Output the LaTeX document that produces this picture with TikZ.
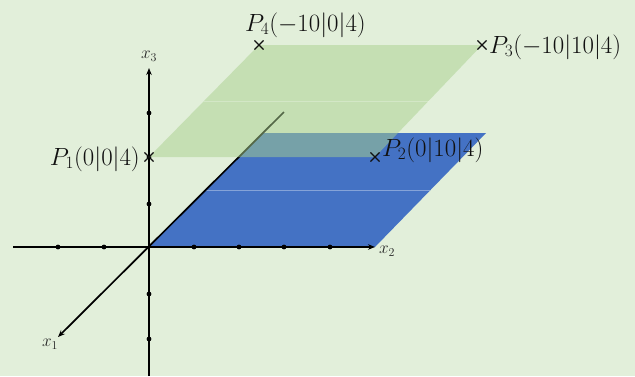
\documentclass[tikz,border=0pt]{standalone}
\usetikzlibrary{arrows.meta,shapes.misc}
\definecolor{bg}{HTML}{E2EFDA}
\definecolor{planeblue}{HTML}{4472C4}
\definecolor{planegreen}{HTML}{A9D08E}
\definecolor{markcol}{HTML}{111111}
\begin{document}
\begin{tikzpicture}[x=1pt,y=-1pt,
  axis/.style={line width=1.7pt,black},
  axisarrow/.style={axis,-{Stealth[length=7pt,width=5.5pt]}},
  tickdot/.style={circle,fill=black,inner sep=0pt,minimum size=4.8pt},
  ptmark/.style={cross out,draw=markcol,line width=1.1pt,minimum size=8pt,inner sep=0pt},
  ptlabel/.style={font=\fontsize{23.5}{27}\selectfont,inner sep=0pt,text=markcol},
  axlabel/.style={font=\fontsize{17}{19}\selectfont,inner sep=0pt,text=black!85},
  midline/.style={white,line width=1pt}]
\useasboundingbox (0,0) rectangle (635,376);
\fill[bg] (0,0) rectangle (635,376);
% lower (blue) plane
\coordinate (O) at (149,247);
\coordinate (B2) at (375,247);
\coordinate (B3) at (486,133);
\coordinate (B4) at (263,133);
\fill[planeblue] (O) -- (B2) -- (B3) -- (B4) -- cycle;
\coordinate (BmL) at (206,190);
\coordinate (BmR) at (430,190);
\draw[midline,opacity=0.35] (BmL) -- (BmR);
% axes
\coordinate (X2s) at (13,247);
\coordinate (X2e) at (375,247);
\coordinate (X3s) at (149,376);
\coordinate (X3e) at (149,68);
\coordinate (X1s) at (284,112);
\coordinate (X1e) at (58,337);
\draw[axisarrow] (X2s) -- (X2e);
\draw[axisarrow] (X3s) -- (X3e);
\draw[axisarrow] (X1s) -- (X1e);
\foreach \x [count=\i] in {58,104,194,239,284,330}
  \node[tickdot] (tx\i) at (\x,247) {};
\foreach \y [count=\i] in {113,157,204,294,339}
  \node[tickdot] (ty\i) at (149,\y) {};
\node[axlabel] (lx3) at (149,56) {$x_3$};
\node[axlabel] (lx2) at (387,251) {$x_2$};
\node[axlabel] (lx1) at (50,344) {$x_1$};
% upper (green) plane
\coordinate (G1) at (149,157);
\coordinate (G2) at (375,157);
\coordinate (G3) at (482,45);
\coordinate (G4) at (259,45);
\fill[planegreen,opacity=0.5] (G1) -- (G2) -- (G3) -- (G4) -- cycle;
\coordinate (GmL) at (204,101);
\coordinate (GmR) at (429,101);
\draw[midline,opacity=0.25] (GmL) -- (GmR);
% points
\node[ptmark] (P1) at (G1) {};
\node[ptmark] (P2) at (G2) {};
\node[ptmark] (P3) at (G3) {};
\node[ptmark] (P4) at (G4) {};
\node[ptlabel,anchor=base east] (L1) at (140,165) {$P_1(0|0|4)$};
\node[ptlabel,anchor=base west] (L2) at (382,156) {$P_2(0|10|4)$};
\node[ptlabel,anchor=base west] (L3) at (489,53) {$P_3(-10|10|4)$};
\node[ptlabel,anchor=base west] (L4) at (245,31) {$P_4(-10|0|4)$};
\end{tikzpicture}
\end{document}
